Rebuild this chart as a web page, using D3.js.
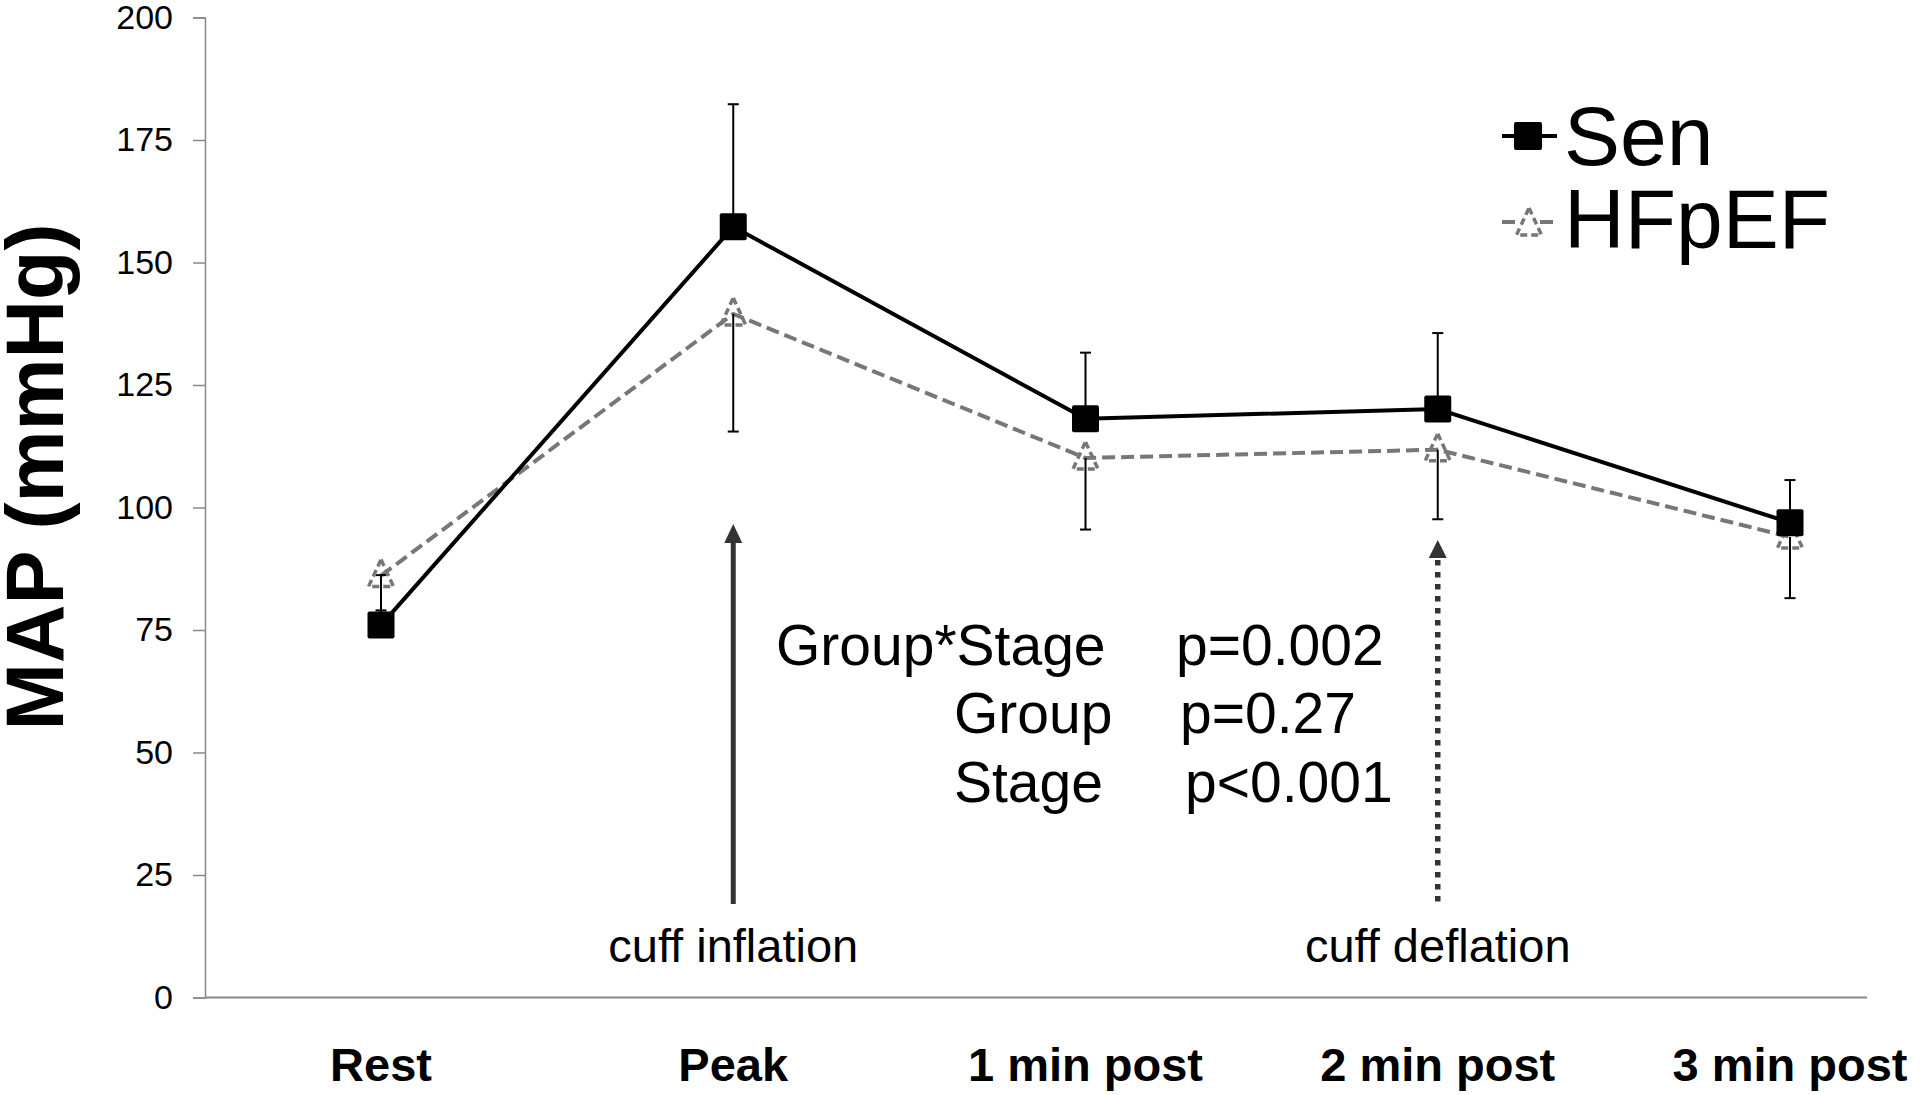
<!DOCTYPE html>
<html>
<head>
<meta charset="utf-8">
<script src="https://cdn.jsdelivr.net/npm/d3@7"></script>
<style>
  html, body { margin: 0; padding: 0; background: #fff; }
  svg { display: block; font-family: "Liberation Sans", Arial, sans-serif; }
</style>
</head>
<body>
<svg id="chart" width="1920" height="1095"></svg>
<script>
// ---- data ----
const categories = ["Rest", "Peak", "1 min post", "2 min post", "3 min post"];
const senValues   = [76.0, 157.3, 118.1, 120.1, 96.9];
const senUpper    = [86.2, 182.3, 131.6, 135.6, 105.6];
const hfpefValues = [86.1, 139.5, 110.1, 111.8, 94.0];
const hfpefLower  = [79.0, 115.5, 95.5, 97.6, 81.5];
const yTicks = [0, 25, 50, 75, 100, 125, 150, 175, 200];
const seriesNames = ["Sen", "HFpEF"];
const statLabels = ["Group*Stage", "Group", "Stage"];
const statValues = ["p=0.002", "p=0.27", "p<0.001"];
const annotations = ["cuff inflation", "cuff deflation"];
const yTitle = "MAP (mmHg)";

// ---- layout ----
const svg = d3.select("#chart");
const axisLeft = 205, axisRight = 1867, axisTop = 17.5, axisBottom = 997.5;

const x = d3.scalePoint().domain(categories).range([381, 1790]);
const y = d3.scaleLinear().domain([0, 200]).range([axisBottom, axisTop]);

const axisColor = "#888";

// y axis
const yAxisG = svg.append("g").attr("transform", `translate(${axisLeft},0)`)
  .call(d3.axisLeft(y).tickValues(yTicks).tickSize(12).tickPadding(20));
yAxisG.select(".domain").attr("stroke", axisColor).attr("stroke-width", 1.5);
yAxisG.selectAll(".tick line").attr("stroke", axisColor).attr("stroke-width", 1.5);
yAxisG.selectAll(".tick text").attr("fill", "#000").attr("font-size", 34)
  .attr("font-family", "Liberation Sans, Arial, sans-serif");

// x axis line (no ticks)
const xAxisG = svg.append("g").attr("transform", `translate(0,${axisBottom})`);
xAxisG.append("line").attr("x1", axisLeft).attr("x2", axisRight)
  .attr("stroke", axisColor).attr("stroke-width", 2);
xAxisG.selectAll("text.cat").data(categories).join("text")
  .attr("class", "cat")
  .attr("x", d => x(d)).attr("y", 83)
  .attr("text-anchor", "middle").attr("font-size", 47).attr("font-weight", "bold")
  .attr("fill", "#000").text(d => d);

// y title
svg.append("text")
  .attr("transform", "translate(63,477) rotate(-90)")
  .attr("text-anchor", "middle").attr("font-size", 81).attr("font-weight", "bold")
  .attr("fill", "#000").text(yTitle);

// ---- lines ----
const senData = categories.map((c, i) => ({c, v: senValues[i], e: senUpper[i]}));
const hfData  = categories.map((c, i) => ({c, v: hfpefValues[i], e: hfpefLower[i]}));
const line = d3.line().x(d => x(d.c)).y(d => y(d.v));

svg.append("path").datum(hfData).attr("d", line)
  .attr("fill", "none").attr("stroke", "#777").attr("stroke-width", 4)
  .attr("stroke-dasharray", "13,6");
svg.append("path").datum(senData).attr("d", line)
  .attr("fill", "none").attr("stroke", "#000").attr("stroke-width", 4);

// ---- error bars ----
function errorBars(data) {
  const g = svg.append("g");
  g.selectAll("line.v").data(data).join("line").attr("class", "v")
    .attr("x1", d => x(d.c)).attr("x2", d => x(d.c))
    .attr("y1", d => y(d.v)).attr("y2", d => y(d.e))
    .attr("stroke", "#000").attr("stroke-width", 2);
  g.selectAll("line.cap").data(data).join("line").attr("class", "cap")
    .attr("x1", d => x(d.c) - 5.5).attr("x2", d => x(d.c) + 5.5)
    .attr("y1", d => y(d.e)).attr("y2", d => y(d.e))
    .attr("stroke", "#000").attr("stroke-width", 2);
}
errorBars(senData);
errorBars(hfData);

// ---- markers ----
const triPath = "M0,-16 L12.5,11 L-12.5,11 Z";
svg.append("g").selectAll("path").data(hfData).join("path")
  .attr("transform", d => `translate(${x(d.c)},${y(d.v)})`)
  .attr("d", triPath).attr("fill", "none").attr("stroke", "#777")
  .attr("stroke-width", 3.5).attr("stroke-dasharray", "7,4");
svg.append("g").selectAll("rect").data(senData).join("rect")
  .attr("x", d => x(d.c) - 13.5).attr("y", d => y(d.v) - 13.5)
  .attr("width", 27).attr("height", 27).attr("rx", 2).attr("fill", "#000");

// ---- legend ----
const leg = svg.append("g");
// Sen
leg.append("line").attr("x1", 1502).attr("x2", 1557).attr("y1", 136).attr("y2", 136)
  .attr("stroke", "#000").attr("stroke-width", 4);
leg.append("rect").attr("x", 1514).attr("y", 122).attr("width", 28).attr("height", 28)
  .attr("rx", 2).attr("fill", "#000");
leg.append("text").attr("x", 1564).attr("y", 165).attr("font-size", 84)
  .attr("fill", "#000").text(seriesNames[0]);
// HFpEF
leg.append("line").attr("x1", 1502).attr("x2", 1557).attr("y1", 222).attr("y2", 222)
  .attr("stroke", "#777").attr("stroke-width", 4).attr("stroke-dasharray", "13,6");
leg.append("rect").attr("x", 1516).attr("y", 212).attr("width", 24).attr("height", 22).attr("fill", "#fff");
leg.append("path").attr("transform", "translate(1529,224)").attr("d", triPath)
  .attr("fill", "none").attr("stroke", "#777").attr("stroke-width", 3.5)
  .attr("stroke-dasharray", "7,4");
leg.append("text").attr("x", 1564).attr("y", 248).attr("font-size", 84)
  .attr("fill", "#000").text(seriesNames[1]);

// ---- annotation arrows ----
const ax1 = x("Peak"), ax2 = x("2 min post");
// solid arrow
svg.append("line").attr("x1", ax1).attr("x2", ax1).attr("y1", 540).attr("y2", 904)
  .attr("stroke", "#333").attr("stroke-width", 5);
svg.append("path").attr("d", `M${ax1},524 L${ax1 + 9},543 L${ax1 - 9},543 Z`).attr("fill", "#333");
// dotted arrow
svg.append("line").attr("x1", ax2).attr("x2", ax2).attr("y1", 560).attr("y2", 904)
  .attr("stroke", "#333").attr("stroke-width", 5.5).attr("stroke-dasharray", "5.5,6.5");
svg.append("path").attr("d", `M${ax2},540 L${ax2 + 9},558 L${ax2 - 9},558 Z`).attr("fill", "#333");

// annotation labels
svg.append("text").attr("x", ax1).attr("y", 962).attr("text-anchor", "middle")
  .attr("font-size", 47).attr("fill", "#000").text(annotations[0]);
svg.append("text").attr("x", ax2).attr("y", 962).attr("text-anchor", "middle")
  .attr("font-size", 47).attr("fill", "#000").text(annotations[1]);

// stats text
const statLabelX = [776, 954, 954];
const statValueX = [1176, 1180, 1185];
const statY = [665, 733, 802];
statLabels.forEach((s, i) => {
  svg.append("text").attr("x", statLabelX[i]).attr("y", statY[i])
    .attr("font-size", 57).attr("fill", "#000").text(s);
  svg.append("text").attr("x", statValueX[i]).attr("y", statY[i])
    .attr("font-size", 57).attr("fill", "#000").text(statValues[i]);
});
</script>
</body>
</html>
